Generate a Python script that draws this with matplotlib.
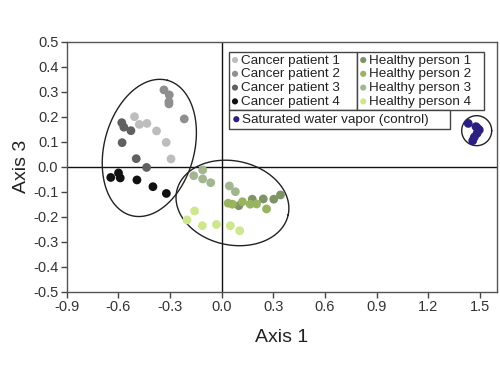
import numpy as np
import matplotlib
matplotlib.use("Agg")
import matplotlib.pyplot as plt

plt.rcParams['font.family'] = ['Liberation Sans', 'DejaVu Sans']
plt.rcParams['axes.unicode_minus'] = False

# data (Axis 1, Axis 3)
c1_x = [-0.506, -0.478, -0.434, -0.378, -0.322, -0.294]
c1_y = [0.200, 0.169, 0.173, 0.143, 0.097, 0.031]
c2_x = [-0.335, -0.304, -0.306, -0.306, -0.217]
c2_y = [0.307, 0.287, 0.260, 0.251, 0.191]
c3_x = [-0.580, -0.568, -0.527, -0.578, -0.496, -0.436]
c3_y = [0.176, 0.158, 0.144, 0.096, 0.032, -0.003]
c4_x = [-0.644, -0.599, -0.589, -0.492, -0.399, -0.321]
c4_y = [-0.043, -0.025, -0.045, -0.053, -0.080, -0.107]
h1_x = [0.100, 0.178, 0.242, 0.303, 0.342]
h1_y = [-0.156, -0.130, -0.129, -0.130, -0.113]
h2_x = [0.038, 0.063, 0.121, 0.166, 0.203, 0.261]
h2_y = [-0.146, -0.150, -0.140, -0.150, -0.149, -0.169]
h3_x = [-0.162, -0.110, -0.110, -0.063, 0.045, 0.080]
h3_y = [-0.036, -0.013, -0.049, -0.064, -0.077, -0.100]
h4_x = [-0.157, -0.201, -0.112, -0.030, 0.051, 0.105]
h4_y = [-0.177, -0.213, -0.236, -0.231, -0.236, -0.256]
ctl_x = [1.433, 1.478, 1.497, 1.484, 1.468, 1.459, 1.488]
ctl_y = [0.173, 0.160, 0.147, 0.133, 0.118, 0.104, 0.153]

labels_c = ["Cancer patient 1", "Cancer patient 2", "Cancer patient 3", "Cancer patient 4"]
labels_h = ["Healthy person 1", "Healthy person 2", "Healthy person 3", "Healthy person 4"]
label_ctl = "Saturated water vapor (control)"

xticks = [-0.9, -0.6, -0.3, 0.0, 0.3, 0.6, 0.9, 1.2, 1.5]
yticks = [-0.5, -0.4, -0.3, -0.2, -0.1, 0.0, 0.1, 0.2, 0.3, 0.4, 0.5]

cols_c = ["#bdbdbd", "#8f8f8f", "#606060", "#111111"]
cols_h = ["#7f9466", "#98b45e", "#a3b690", "#cfe78c"]
col_ctl = "#29207f"

fig = plt.figure(figsize=(5, 3.75), dpi=100)
ax = fig.add_axes([0.1334, 0.222, 0.8606, 0.667])
ax.set_xlim(-0.9, 1.6)
ax.set_ylim(-0.5, 0.5)

ax.axhline(0, color="#111111", lw=1, zorder=1)
ax.axvline(0, color="#111111", lw=1, zorder=1)

hc = []
for xs, ys, c, l in zip([c1_x, c2_x, c3_x, c4_x], [c1_y, c2_y, c3_y, c4_y], cols_c, labels_c):
    hc.append(ax.scatter(xs, ys, s=40, color=c, edgecolors="none", label=l, zorder=3))
hh = []
for xs, ys, c, l in zip([h1_x, h2_x, h3_x, h4_x], [h1_y, h2_y, h3_y, h4_y], cols_h, labels_h):
    hh.append(ax.scatter(xs, ys, s=40, color=c, edgecolors="none", label=l, zorder=3))
hctl = ax.scatter(ctl_x, ctl_y, s=40, color=col_ctl, edgecolors="none", label=label_ctl, zorder=3)

# group ellipses: centre in data, semi-axes in pixels, angle of major axis
def ring(cx, cy, a, b, ang):
    t = np.linspace(0, 2 * np.pi, 200)
    r = np.deg2rad(ang)
    x0, y0 = ax.transData.transform((cx, cy))
    ex = x0 + a * np.cos(t) * np.cos(r) - b * np.sin(t) * np.sin(r)
    ey = y0 + a * np.cos(t) * np.sin(r) + b * np.sin(t) * np.cos(r)
    d = ax.transData.inverted().transform(np.column_stack([ex, ey]))
    ax.plot(d[:, 0], d[:, 1], color="#222222", lw=1, zorder=2)

ring(-0.42, 0.075, 70, 45, 75)
ring(0.063, -0.145, 57, 42, -12)
ring(1.482, 0.144, 15, 15, 0)

ax.set_xticks(xticks)
ax.set_yticks(yticks)
ax.set_xticklabels(["%.1f" % v for v in xticks])
ax.set_yticklabels(["%.1f" % v for v in yticks])
ax.tick_params(direction="out", length=4, width=1, color="#444444", labelsize=10.5,
               labelcolor="#333333", pad=2)
for s in ax.spines.values():
    s.set_color("#555555")
    s.set_linewidth(1)

ax.set_xlabel("Axis 1", fontsize=14, color="#222222", labelpad=11)
ax.set_ylabel("Axis 3", fontsize=14, color="#222222", labelpad=2)

lk = dict(loc="upper left", mode="expand", borderaxespad=0, fontsize=9.7, fancybox=False,
          edgecolor="#444444", framealpha=1, labelspacing=0.1, handletextpad=0.15,
          handlelength=0.6, borderpad=0.15, markerscale=0.7, scatterpoints=1, labelcolor="#222222")
l1 = ax.legend(handles=hc, bbox_to_anchor=(0.377, 0.958, 0.298, 0), **lk)
l1.get_frame().set_linewidth(1)
ax.add_artist(l1)
l2 = ax.legend(handles=hh, bbox_to_anchor=(0.675, 0.958, 0.2955, 0), **lk)
l2.get_frame().set_linewidth(1)
ax.add_artist(l2)

fig.canvas.draw()
bb = l1.get_window_extent().transformed(ax.transAxes.inverted())
lk["borderpad"] = 0.25
l3 = ax.legend(handles=[hctl], bbox_to_anchor=(0.377, bb.y0, 0.514, 0), **lk)
l3.get_frame().set_linewidth(1)

fig.savefig("out.png", dpi=100)
